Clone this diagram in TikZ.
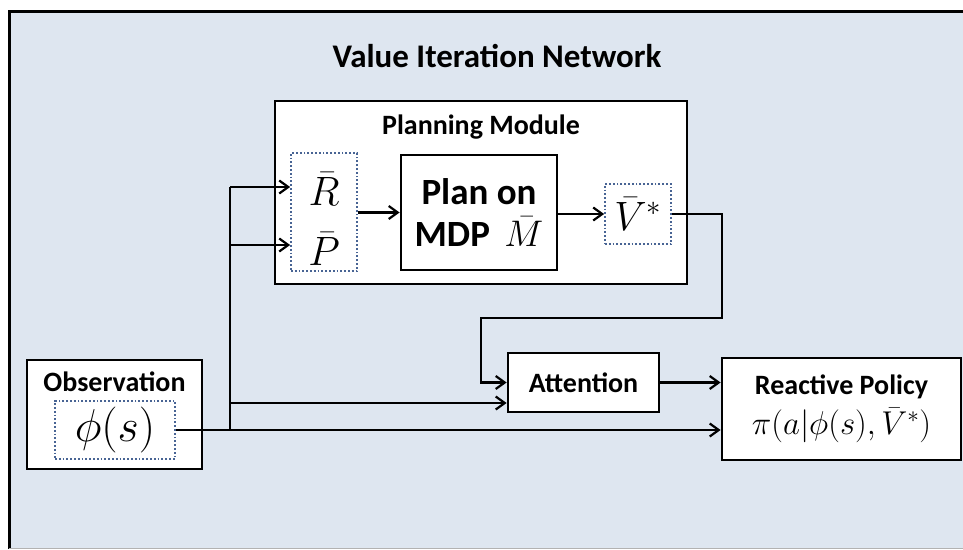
\RequirePackage{fix-cm}
\documentclass[tikz,border=0pt]{standalone}
\usepackage{amsmath}
\usepackage[no-math]{fontspec}
\setmainfont{Carlito}
\usetikzlibrary{positioning,arrows.meta}
\definecolor{panelbg}{RGB}{222,230,240}
\definecolor{dotblue}{RGB}{72,100,148}
\tikzset{block/.style={draw,line width=2.8pt,fill=white,inner sep=0pt},
	 dotbox/.style={draw=dotblue,dotted,line width=1.8pt,inner sep=0pt},
	 lbl/.style={font=\bfseries\fontsize{28}{32}\selectfont},
	 bigmath/.style={font=\fontsize{41}{46}\selectfont},
	 link/.style={line width=2.2pt,-{Straight Barb[length=9pt,width=13pt]}}
	 }

\begin{document}
\begin{tikzpicture}[x=1pt,y=-1pt]
        \useasboundingbox (0,0) rectangle (963,549);
        % panel
        \fill[panelbg] (9,11) rectangle (990,548);
        \draw[line width=3pt] (990,11) -- (9,11) -- (9,549);
        \draw[gray!60,line width=1pt] (9,548) -- (990,548);
        \node[font=\bfseries\fontsize{33}{38}\selectfont] (title) at (497,56) {Value Iteration Network};
        % planning module
        \node[block,minimum width=412,minimum height=183] (pm) at (481,192.5) {};
        \node[lbl] (pmlabel) at (481,127) {Planning Module};
        \node[dotbox,minimum width=66,minimum height=118] (rp) at (324,212) {};
        \node[bigmath] (rbar) at (324,189) {$\bar{R}$};
        \node[bigmath] (pbar) at (324,249) {$\bar{P}$};
        \node[block,minimum width=156,minimum height=115,align=center,
              font=\bfseries\fontsize{37}{42}\selectfont] (mdp) at (479,212.5)
              {Plan on\\MDP \,$\bar{M}$};
        \node[dotbox,minimum width=66,minimum height=60,bigmath] (vstar) at (638,214) {$\bar{V}^{*}$};
        % lower row
        \node[block,minimum width=175,minimum height=109] (obs) at (114.5,414.5) {};
        \node[lbl] (obslabel) at (114.5,382) {Observation};
        \node[dotbox,minimum width=120,minimum height=58,font=\fontsize{46}{50}\selectfont] (phi) at (115,430) {$\phi(s)$};
        \node[block,minimum width=151,minimum height=59,lbl] (att) at (583.5,382.5) {Attention};
        \node[block,minimum width=239,minimum height=102,align=center] (rpol) at (841.5,409)
              {\bfseries\fontsize{28}{32}\selectfont Reactive Policy\\[8pt]
               \fontsize{33}{36}\selectfont$\pi(a|\phi(s),\bar{V}^{*})$};
        % connectors
        \coordinate (jr) at (230,187);
        \coordinate (jp) at (230,245);
        \coordinate (ja) at (230,403);
        \coordinate (js) at (230,430);
        \coordinate (c1) at (722,318);
        \coordinate (c2) at (481,318);
        \draw[line width=2.2pt] (js) -- (jr);
        \draw[link] (phi.east) -- (phi.east -| rpol.west);
        \draw[link] (jr) -- (jr -| rp.west);
        \draw[link] (jp) -- (jp -| rp.west);
        \draw[link] (ja) -- (ja -| att.west);
        \draw[link] (rp.east |- mdp.west) -- (mdp.west);
        \draw[link] (mdp.east |- vstar.west) -- (vstar.west);
        \draw[link] (vstar.east) -| (c1) -- (c2) |- (att.west);
        \draw[link] (att.east) -- (att.east -| rpol.west);
\end{tikzpicture}
\end{document}
